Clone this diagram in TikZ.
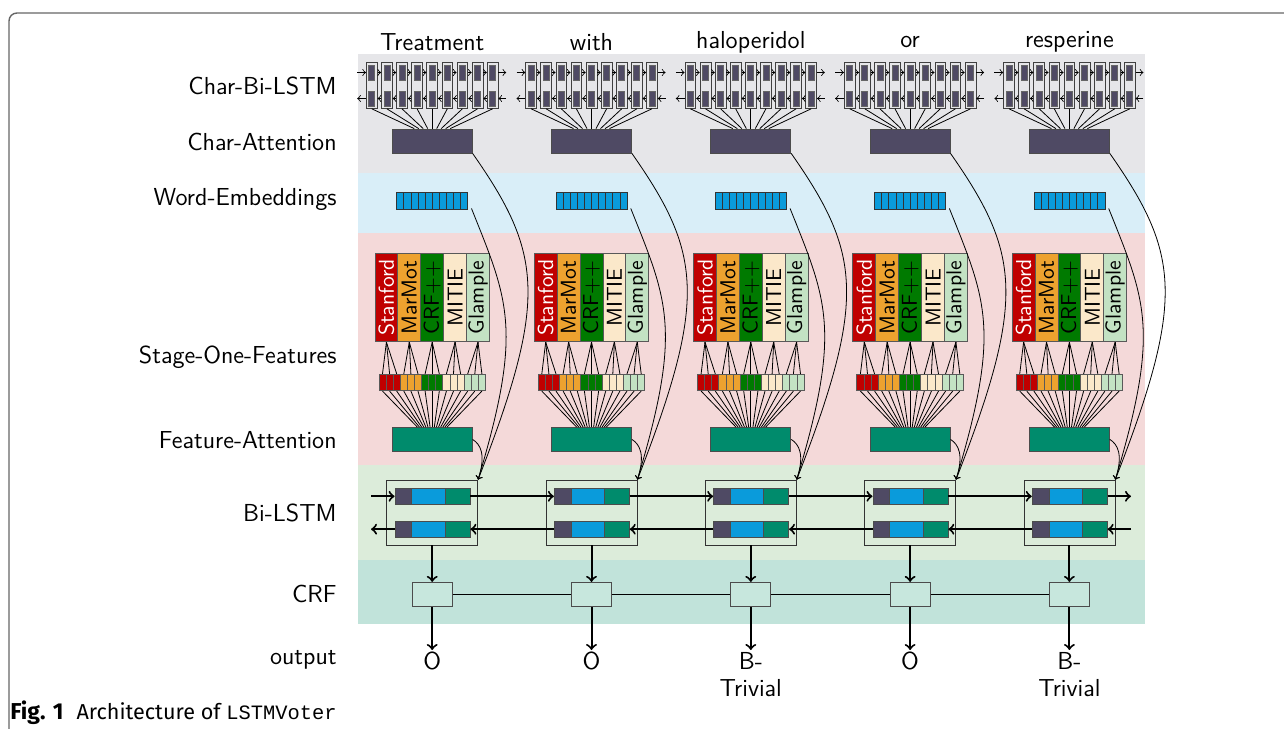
\documentclass[tikz,border=0pt]{standalone}
\usepackage{fontspec}
\newfontfamily\capfont{Fira Sans}
\newfontfamily\capmono{Liberation Mono}
\usetikzlibrary{fit}

\definecolor{bandgrey}{HTML}{E6E6E9}
\definecolor{bandblue}{HTML}{D9EEF8}
\definecolor{bandpink}{HTML}{F4D9D9}
\definecolor{bandgreen}{HTML}{DCECDA}
\definecolor{bandteal}{HTML}{C1E3DA}
\definecolor{charcol}{HTML}{4F4A64}
\definecolor{weblue}{HTML}{0A9BDB}
\definecolor{fatt}{HTML}{008B6C}
\definecolor{stanred}{HTML}{C00000}
\definecolor{marmot}{HTML}{EDA22F}
\definecolor{crfgreen}{HTML}{007A00}
\definecolor{mitie}{HTML}{FBE8CA}
\definecolor{glample}{HTML}{C3E2C3}
\definecolor{crffill}{HTML}{C7E7DD}

\begin{document}
\begin{tikzpicture}[x=0.5pt, y=-0.5pt, font=\fontsize{12.3}{13.5}\sffamily,
  rowlbl/.style = {anchor=east, inner sep=0pt},
  chr/.style = {draw=black!60, fill=charcol, minimum width=3pt, minimum height=7.5pt, inner sep=0pt},
  chrbox/.style = {draw=black!75, inner sep=1pt},
  att/.style = {draw=black!70, minimum width=40pt, minimum height=12pt, inner sep=0pt},
  emb/.style = {draw=black!80, fill=weblue, minimum width=3.55pt, minimum height=8.25pt, inner sep=0pt},
  tool/.style = {draw=black!65, rotate=90, minimum width=44.2pt, minimum height=11.45pt, inner sep=0pt, font=\fontsize{10.8}{11}\sffamily},
  feat/.style = {draw=black!65, minimum width=3.55pt, minimum height=8.2pt, inner sep=0pt},
  seg/.style = {draw=black!70, minimum height=8pt, inner sep=0pt},
  crf/.style = {draw=black!70, fill=crffill, minimum width=20pt, minimum height=12.2pt},
  flow/.style = {->, line width=1pt},
  feed/.style = {->}]
\useasboundingbox (0,0) rectangle (1284,728);

% bands
\fill[bandgrey] (358,54) rectangle (1145,173);
\fill[bandblue] (358,173) rectangle (1145,233);
\fill[bandpink] (358,233) rectangle (1145,465);
\fill[bandgreen] (358,465) rectangle (1145,560);
\fill[bandteal] (358,560) rectangle (1145,624);
\draw[black!60, line width=0.7pt, rounded corners=4pt] (1300,13) -- (9,13) -- (9,745) -- (40,745);

% row labels
\node[rowlbl] (l-cbl) at (337,86) {Char-Bi-LSTM};
\node[rowlbl] (l-ca) at (337,142) {Char-Attention};
\node[rowlbl] (l-we) at (337,199) {Word-Embeddings};
\node[rowlbl] (l-sof) at (337,357) {Stage-One-Features};
\node[rowlbl] (l-fa) at (337,440) {Feature-Attention};
\node[rowlbl] (l-bl) at (337,513) {Bi-LSTM};
\node[rowlbl] (l-crf) at (337,594) {CRF};
\node[rowlbl] (l-out) at (337,660) {output};

\foreach \i/\w/\o in {1/Treatment/O, 2/with/O, 3/haloperidol/{B-\\Trivial}, 4/or/O, 5/resperine/{B-\\Trivial}} {
  \pgfmathsetmacro{\cx}{432.2+(\i-1)*159.3}
  \node (w-\i) at (\cx,42) {\w};
  % char cells
  \foreach \k in {1,...,9} {
    \pgfmathsetmacro{\kx}{\cx+(\k-5)*15.1}
    \node[chr] (ct-\i-\k) at (\kx,72.5) {};
    \node[chr] (cb-\i-\k) at (\kx,98.5) {};
    \node[chrbox, fit=(ct-\i-\k)(cb-\i-\k)] (cc-\i-\k) {};
  }
  \coordinate (ctl-\i) at ({\cx-75},72.5);
  \coordinate (ctr-\i) at ({\cx+74},72.5);
  \coordinate (cbl-\i) at ({\cx-75},98.5);
  \coordinate (cbr-\i) at ({\cx+74},98.5);
  \draw[->] (ctl-\i) -- (cc-\i-1.west |- ct-\i-1);
  \draw[->] (cc-\i-1.west |- cb-\i-1) -- (cbl-\i);
  \foreach \k [count=\kn from 2] in {1,...,8} {
    \draw[->] (cc-\i-\k.east |- ct-\i-\k) -- (cc-\i-\kn.west |- ct-\i-\kn);
    \draw[->] (cc-\i-\kn.west |- cb-\i-\kn) -- (cc-\i-\k.east |- cb-\i-\k);
  }
  \draw[->] (cc-\i-9.east |- ct-\i-9) -- (ctr-\i);
  \draw[->] (cbr-\i) -- (cc-\i-9.east |- cb-\i-9);
  \node[att, fill=charcol] (ca-\i) at (\cx,141) {};
  \foreach \k in {1,...,9}
    \draw (cc-\i-\k.south) -- ([xshift={(\k-5)*2.25pt}]ca-\i.north);
  % word embedding
  \foreach \k in {1,...,10} {
    \pgfmathsetmacro{\kx}{\cx+(\k-5.5)*7.1}
    \node[emb] (we-\i-\k) at (\kx,201) {};
  }
  \node[inner sep=0pt, fit=(we-\i-1)(we-\i-10)] (we-\i) {};
  % stage one features
  \node[att, fill=fatt] (fa-\i) at (\cx,439.4) {};
  \foreach \t/\tn/\tc/\tt in {1/Stanford/stanred/white, 2/MarMot/marmot/black, 3/CRF++/crfgreen/black, 4/MITIE/mitie/black, 5/Glample/glample/black} {
    \pgfmathsetmacro{\tx}{\cx+(\t-3)*22.9}
    \node[tool, fill=\tc, text=\tt] (tb-\i-\t) at (\tx,297.5) {\tn};
    \foreach \s in {1,2,3} {
      \pgfmathtruncatemacro{\j}{3*(\t-1)+\s}
      \pgfmathsetmacro{\jx}{\cx+(\j-8)*7.1}
      \node[feat, fill=\tc] (fc-\i-\j) at (\jx,382.5) {};
      \draw (tb-\i-\t.west) -- (fc-\i-\j.north);
      \draw (fc-\i-\j.south) -- ([xshift={(\j-8)*1.065pt}]fa-\i.north);
    }
  }
  % bi-lstm
  \node[draw=black!80, minimum width=45.5pt, minimum height=32.5pt] (bl-\i) at (\cx,512.5) {};
  \node[seg, fill=charcol, minimum width=8.35pt] (fwa-\i) at ({\cx-28.85},496.3) {};
  \node[seg, fill=weblue, minimum width=16.65pt] (fwb-\i) at ({\cx-3.85},496.3) {};
  \node[seg, fill=fatt, minimum width=12.5pt] (fwc-\i) at ({\cx+25.3},496.3) {};
  \node[seg, fill=charcol, minimum width=8.35pt] (bwa-\i) at ({\cx-28.85},529.2) {};
  \node[seg, fill=weblue, minimum width=16.65pt] (bwb-\i) at ({\cx-3.85},529.2) {};
  \node[seg, fill=fatt, minimum width=12.5pt] (bwc-\i) at ({\cx+25.3},529.2) {};
  % crf and output
  \node[crf] (crf-\i) at (\cx,594.5) {};
  \node[anchor=north, align=center, inner sep=1pt] (out-\i) at (\cx,650) {\o};
  \draw[flow] (bl-\i.south) -- (crf-\i.north);
  \draw[flow] (crf-\i.south) -- (out-\i.north);
  % attention inputs
  \draw[feed] (ca-\i.south east) .. controls +(70,100) and +(70,-180) .. (bl-\i.north east);
  \draw[feed, shorten <=4pt] (we-\i.east) .. controls +(40,100) and +(45,-150) .. (bl-\i.north east);
  \draw[feed] (fa-\i.east) .. controls +(8,5) and +(8,-25) .. (bl-\i.north east);
}

\foreach \i [count=\j from 2] in {1,...,4} {
  \draw[flow] (fwc-\i.east) -- (fwa-\j.west);
  \draw[flow] (bwa-\j.west) -- (bwc-\i.east);
  \draw (crf-\i.east) -- (crf-\j.west);
}
\coordinate (fin) at (371,496.3);
\coordinate (fout) at (1131,496.3);
\coordinate (bin) at (1131,529.2);
\coordinate (bout) at (371,529.2);
\draw[flow] (fin) -- (fwa-1.west);
\draw[flow] (fwc-5.east) -- (fout);
\draw[flow] (bin) -- (bwc-5.east);
\draw[flow] (bwa-1.west) -- (bout);

\node[anchor=base west, inner sep=0pt, font={\capfont\fontsize{10.8}{12}\selectfont}] (cap) at (10,719) {\textbf{\fontsize{11.5}{12}\selectfont Fig. 1}\hspace{0.6em}Architecture of {\capmono\fontsize{10.2}{12}\selectfont LSTMVoter}};
\end{tikzpicture}
\end{document}
